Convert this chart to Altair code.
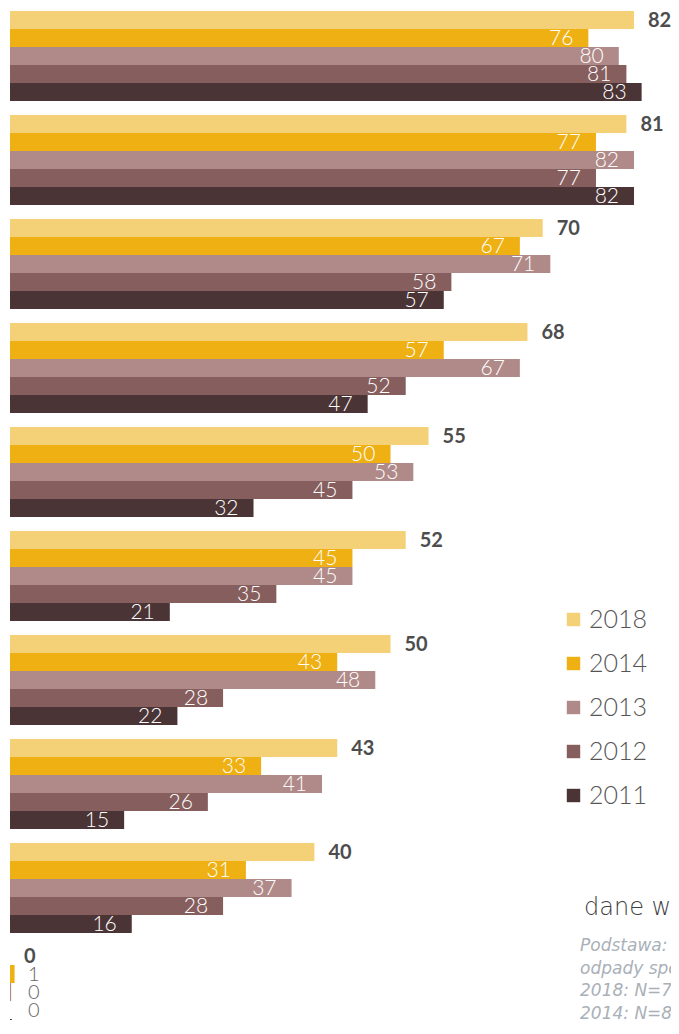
import altair as alt
import pandas as pd

groups = ["G1", "G2", "G3", "G4", "G5", "G6", "G7", "G8", "G9", "G10"]
years = ["2018", "2014", "2013", "2012", "2011"]
v2018 = [82, 81, 70, 68, 55, 52, 50, 43, 40, 0]
v2014 = [76, 77, 67, 57, 50, 45, 43, 33, 31, 0.6]
v2013 = [80, 82, 71, 67, 53, 45, 48, 41, 37, 0.15]
v2012 = [81, 77, 58, 52, 45, 35, 28, 26, 28, 0]
v2011 = [83, 82, 57, 47, 32, 21, 22, 15, 16, 0.25]
colors = ["#F4D077", "#EEB013", "#B08A88", "#855E5D", "#4B3435"]

unit_note = "dane w %"
base_note = ["Podstawa: respondenci segregujący",
             "odpady specjalne",
             "2018: N=783",
             "2014: N=830",
             "2013: N=692"]

series = [v2018, v2014, v2013, v2012, v2011]
rows = []
for i, g in enumerate(groups):
    for yr, vals in zip(years, series):
        v = vals[i]
        rows.append({"group": g, "year": yr, "value": v,
                     "label": str(int(round(v)))})
df = pd.DataFrame(rows)

FONT = "Lato"

y_enc = alt.Y("group:N", sort=groups, axis=None,
              scale=alt.Scale(range=[0, 1026], paddingInner=14 / 104,
                              paddingOuter=0))
yo_enc = alt.YOffset("year:N", sort=years,
                     scale=alt.Scale(paddingInner=0, paddingOuter=0))
x_enc = alt.X("value:Q", axis=None,
              scale=alt.Scale(domain=[0, 86.86], nice=False, zero=True))

base = alt.Chart(df)

bars = base.mark_bar().encode(
    x=x_enc, y=y_enc, yOffset=yo_enc,
    color=alt.Color("year:N", sort=years,
                    scale=alt.Scale(domain=years, range=colors),
                    legend=alt.Legend(title=None, orient="none",
                                      legendX=551, legendY=596,
                                      symbolType="square", symbolSize=180,
                                      symbolStrokeWidth=0, symbolOpacity=1,
                                      labelFontSize=25, labelColor="#555555",
                                      labelFont=FONT, labelFontWeight=300,
                                      labelOffset=3, rowPadding=18)),
)

inside = base.transform_filter(
    "datum.year != '2018' && datum.value >= 3"
).mark_text(align="right", baseline="middle", dx=-15, dy=1,
            color="white", fontSize=21, font=FONT, fontWeight=300).encode(
    x=x_enc, y=y_enc, yOffset=yo_enc, text="label:N")

small = base.transform_filter(
    "datum.year != '2018' && datum.value < 3"
).mark_text(align="left", baseline="middle", dy=1,
            color="#666666", fontSize=20, font=FONT, fontWeight=300).encode(
    x=alt.value(18), y=y_enc, yOffset=yo_enc, text="label:N")

bold = base.transform_filter("datum.year == '2018'").mark_text(
    align="left", baseline="middle", dx=14, dy=1,
    color="#4D4D4D", fontSize=20, font=FONT, fontWeight="bold").encode(
    x=x_enc, y=y_enc, yOffset=yo_enc, text="label:N")

one = pd.DataFrame({"k": [0]})
unit_txt = alt.Chart(one).mark_text(
    align="left", baseline="middle", fontSize=24, font="DejaVu Sans",
    fontWeight=200, color="#3F3F3F", text=unit_note).encode(
    x=alt.value(574), y=alt.value(897))

base_txt = alt.Chart(one).mark_text(
    align="left", baseline="alphabetic", fontSize=17, font="DejaVu Sans",
    fontStyle="italic", fontWeight=200, color="#A9B0B8", lineHeight=22.5,
    text=base_note).encode(
    x=alt.value(570), y=alt.value(940))

chart = alt.layer(bars, inside, small, bold, unit_txt, base_txt).properties(
    width=661, height=1009,
    padding={"left": 2, "top": 3, "right": 0, "bottom": 0},
    autosize=alt.AutoSizeParams(type="none"),
    background="white",
).configure_view(stroke=None)

chart.save("out.html", embed_options={"renderer": "svg", "actions": False})
